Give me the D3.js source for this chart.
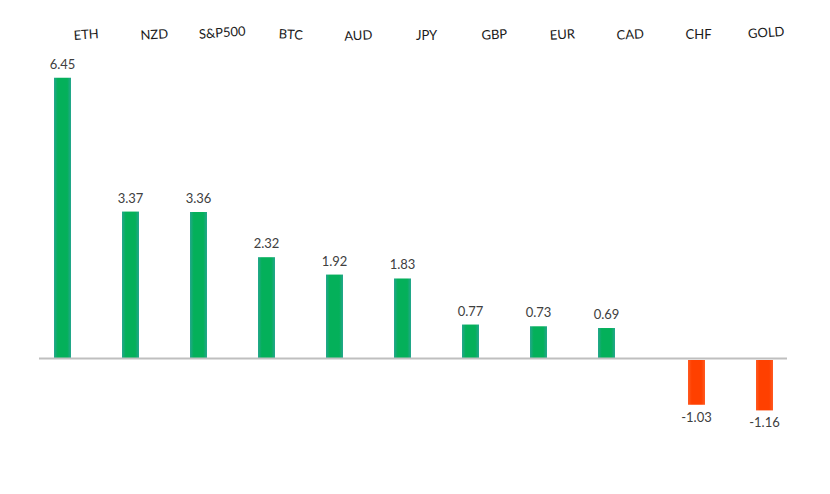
<!DOCTYPE html>
<html>
<head>
<meta charset="utf-8">
<script src="https://cdn.jsdelivr.net/npm/d3@7"></script>
<style>
  body { margin: 0; background: #fff; }
  svg { display: block; }
</style>
</head>
<body>
<div id="chart"></div>
<script>
// categories & values (weekly % change)
const categories = ["ETH", "NZD", "S&P500", "BTC", "AUD", "JPY", "GBP", "EUR", "CAD", "CHF", "GOLD"];
const values = [6.45, 3.37, 3.36, 2.32, 1.92, 1.83, 0.77, 0.73, 0.69, -1.03, -1.16];
const series = ["up", "down"];

const width = 830, height = 494;

const svg = d3.select("#chart").append("svg")
    .attr("width", width)
    .attr("height", height);

// category scale
const x = d3.scaleBand()
    .domain(categories)
    .range([39.5, 787.5])
    .paddingInner(0)
    .paddingOuter(0);

// sub-slot for positive / negative series (clustered like the original)
const xs = d3.scalePoint()
    .domain(series)
    .range([-11, 11]);

const y = d3.scaleLinear()
    .domain([-1.16, 6.45])
    .range([358 + 1.16 * 43.45, 358 - 6.45 * 43.45]);

const barW = 17;

// gradients
const defs = svg.append("defs");
function grad(id, edge, mid) {
    let g = defs.append("linearGradient").attr("id", id)
        .attr("x1", "0%").attr("x2", "100%").attr("y1", "0%").attr("y2", "0%");
    g.append("stop").attr("offset", "0%").attr("stop-color", edge);
    g.append("stop").attr("offset", "22%").attr("stop-color", mid);
    g.append("stop").attr("offset", "78%").attr("stop-color", mid);
    g.append("stop").attr("offset", "100%").attr("stop-color", edge);
}
grad("gUp", "#25a68e", "#04b05a");
grad("gDown", "#ff5a22", "#ff4000");

const data = categories.map((c, i) => ({cat: c, value: values[i], s: values[i] >= 0 ? "up" : "down"}));
const cx = d => x(d.cat) + x.bandwidth() / 2 + xs(d.s);

// bars
svg.append("g").selectAll("rect")
    .data(data)
    .enter()
    .append("rect")
    .attr("x", d => cx(d) - barW / 2)
    .attr("y", d => d.value >= 0 ? y(d.value) : y(0) + 2)
    .attr("width", barW)
    .attr("height", d => d.value >= 0 ? y(0) - y(d.value) : y(d.value) - y(0))
    .attr("fill", d => d.value >= 0 ? "url(#gUp)" : "url(#gDown)");

// zero line
svg.append("line")
    .attr("x1", 39).attr("x2", 787)
    .attr("y1", y(0) + 0.5).attr("y2", y(0) + 0.5)
    .attr("stroke", "#bfbfbf")
    .attr("stroke-width", 2);

// value labels (plain hyphen for negatives, as in the original)
svg.append("g").selectAll("text")
    .data(data)
    .enter()
    .append("text")
    .attr("x", d => cx(d))
    .attr("y", d => d.value >= 0 ? y(d.value) - 9 : y(d.value) + 19)
    .attr("text-anchor", "middle")
    .style("font-family", "Lato, 'Open Sans', sans-serif")
    .style("font-size", "13px")
    .style("fill", "#404040")
    .text(d => d.value.toFixed(2));

// category labels across the top (slightly tilted)
const tilt = [-4, -3, -4, 3, -3, 0, -3, -3, -3, 0, -4];
const labY = [39, 39, 37, 39, 40, 40, 39, 39, 39, 39, 37];
svg.append("g").selectAll("text")
    .data(categories)
    .enter()
    .append("text")
    .attr("transform", (d, i) => `translate(${x(d) + x.bandwidth() / 2 + 13},${labY[i]}) rotate(${tilt[i]})`)
    .attr("text-anchor", "middle")
    .style("font-family", "Lato, 'Open Sans', sans-serif")
    .style("font-size", "13px")
    .style("fill", "#1a1a1a")
    .text(d => d);
</script>
</body>
</html>
